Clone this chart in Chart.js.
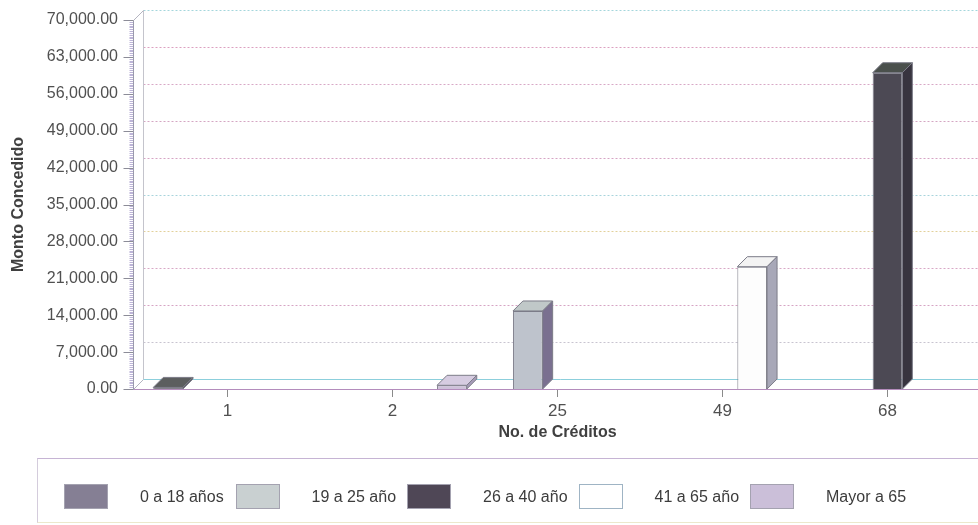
<!DOCTYPE html>
<html>
<head>
<meta charset="utf-8">
<script src="https://cdn.jsdelivr.net/npm/chart.js@4.4.1/dist/chart.umd.min.js"></script>
<style>
  html, body { margin: 0; padding: 0; background: #fff; }
  #wrap { position: relative; width: 978px; height: 525px; overflow: hidden;
          font-family: "Liberation Sans", Arial, sans-serif; }
  #chart { position: absolute; left: 0; top: 0; }
  #legend { position: absolute; left: 37px; top: 458px; width: 960px; height: 65px;
            box-sizing: border-box; border-top: 1px solid #c6b4d4; border-left: 1px solid #d4ccdc;
            border-bottom: 1px solid #ece8cc; display: flex; align-items: flex-start;
            padding: 25px 0 0 26px; }
  .item { display: flex; align-items: center; width: 171.5px; flex: none; }
  .sw { width: 44px; height: 25px; box-sizing: border-box; border: 1px solid #a4a2b0; margin-right: 32px; flex: none; }
  .lbl { font-size: 16px; color: #3c3c3c; white-space: nowrap; }
</style>
</head>
<body>
<div id="wrap">
  <canvas id="chart" width="978" height="525"></canvas>
  <div id="legend"></div>
</div>
<script>
// Número de créditos (categories on the x axis)
const categories = ['1', '2', '25', '49', '68'];

// Age groups
const seriesNames = ['0 a 18 años', '19 a 25 año', '26 a 40 año', '41 a 65 año', 'Mayor a 65'];

// Monto concedido per age group and number of credits
const age0to18  = [300, null, null, null, null];
const age19to25 = [null, null, 14800, null, null];
const age26to40 = [null, null, null, null, 60000];
const age41to65 = [null, null, null, 23200, null];
const ageOver65 = [null, 700, null, null, null];

// Y axis tick values
const yTicks = [0, 7000, 14000, 21000, 28000, 35000, 42000, 49000, 56000, 63000, 70000];

// Styling
const FONT = '"Liberation Sans", Arial, sans-serif';
const frontColors  = ['#66646e', '#bec3cc', '#4c4954', '#fdfdfd', '#cdc1d9'];
const topColors    = ['#5c5e5f', '#c0c8c8', '#4a504c', '#f3f3f3', '#d6cce1'];
const sideColors   = ['#46444c', '#7a7090', '#38343f', '#a8a8b8', '#a69bb8'];
const swatchColors = ['#857f94', '#c9d0d1', '#4f4756', '#ffffff', '#cbbfd9'];
const gridColors   = ['#c9c9d0', '#c8c4d0', '#d6a4c4', '#d8a8c6', '#e2d09a', '#a8d4dc', '#d6a4c4', '#d4a6c2', '#d8a8c6', '#dca0c0', '#a4d6dc'];
const DEPTH = 10;       // 3D depth offset in px
const AXIS_INSET = 12;  // front y axis line sits this far left of the plot

const seriesValues = [age0to18, age19to25, age26to40, age41to65, ageOver65];

function poly(ctx, pts) {
  ctx.beginPath();
  ctx.moveTo(pts[0][0], pts[0][1]);
  for (let i = 1; i < pts.length; i++) ctx.lineTo(pts[i][0], pts[i][1]);
  ctx.closePath();
}
function seg(ctx, x1, y1, x2, y2) {
  ctx.beginPath(); ctx.moveTo(x1, y1); ctx.lineTo(x2, y2); ctx.stroke();
}

// Back wall, floor, gridlines and y axis ticks of the 3D frame
const frame3d = {
  id: 'frame3d',
  beforeDatasetsDraw(chart) {
    const { ctx, chartArea: a, scales: { y } } = chart;
    const W = chart.width;
    const fx = a.left - AXIS_INSET + 0.5;
    const bx = fx + DEPTH;
    const yTop = Math.round(y.getPixelForValue(y.max)) + 0.5;
    const yBot = Math.round(y.getPixelForValue(0)) + 0.5;
    ctx.save();
    ctx.lineWidth = 1;

    // dotted gridlines on the back wall
    ctx.setLineDash([2, 2]);
    y.ticks.forEach((t, i) => {
      if (t.value === 0) return;
      const py = Math.round(y.getPixelForValue(t.value) - DEPTH) + 0.5;
      ctx.strokeStyle = gridColors[i % gridColors.length];
      seg(ctx, bx, py, W, py);
    });
    ctx.setLineDash([]);

    // back wall edge and floor
    ctx.strokeStyle = '#c4c4cc';
    seg(ctx, bx, yTop - DEPTH, bx, yBot - DEPTH);
    ctx.strokeStyle = '#b4b4c0';
    seg(ctx, fx, yTop, bx, yTop - DEPTH);
    seg(ctx, fx, yBot, bx, yBot - DEPTH);
    ctx.strokeStyle = '#8ccfdc';
    seg(ctx, bx, yBot - DEPTH, W, yBot - DEPTH);
    ctx.strokeStyle = '#b48cbc';
    seg(ctx, fx, yBot, W, yBot);

    // minor ticks
    const minorStep = (yTicks[1] - yTicks[0]) / 20;
    ctx.strokeStyle = '#bdb4d8';
    for (let v = 0; v <= y.max; v += minorStep) {
      const py = Math.round(y.getPixelForValue(v)) + 0.5;
      seg(ctx, fx - 4, py, fx, py);
    }
    // major ticks
    ctx.strokeStyle = '#8c8c98';
    y.ticks.forEach(t => {
      const py = Math.round(y.getPixelForValue(t.value)) + 0.5;
      seg(ctx, fx - 10, py, fx, py);
    });
    // front y axis line
    ctx.strokeStyle = '#9a9aac';
    seg(ctx, fx, yTop, fx, yBot);
    ctx.restore();
  }
};

// Top and side faces of each bar
const bars3d = {
  id: 'bars3d',
  afterDatasetsDraw(chart) {
    const { ctx } = chart;
    const D = DEPTH;
    ctx.save();
    ctx.lineWidth = 1;
    ctx.strokeStyle = '#7c7c88';
    chart.data.datasets.forEach((ds, di) => {
      const meta = chart.getDatasetMeta(di);
      meta.data.forEach((el, i) => {
        if (ds.data[i] == null) return;
        const { x, y, base, width } = el.getProps(['x', 'y', 'base', 'width'], true);
        const l = x - width / 2, r = x + width / 2;
        ctx.fillStyle = topColors[di];
        poly(ctx, [[l, y], [l + D, y - D], [r + D, y - D], [r, y]]);
        ctx.fill(); ctx.stroke();
        ctx.fillStyle = sideColors[di];
        poly(ctx, [[r, y], [r + D, y - D], [r + D, base - D], [r, base]]);
        ctx.fill(); ctx.stroke();
      });
    });
    ctx.restore();
  }
};

const datasets = seriesNames.map((name, i) => ({
  label: name,
  data: seriesValues[i],
  backgroundColor: frontColors[i],
  borderColor: '#7c7c88',
  borderWidth: 1,
  categoryPercentage: 0.9,
  barPercentage: 1.0
}));

new Chart(document.getElementById('chart'), {
  type: 'bar',
  data: { labels: categories, datasets },
  options: {
    responsive: false,
    animation: false,
    devicePixelRatio: 1,
    layout: { padding: { left: 0, right: 8, top: 20, bottom: 81 } },
    plugins: { legend: { display: false }, tooltip: { enabled: false } },
    scales: {
      x: {
        grid: { display: true, drawOnChartArea: false, drawTicks: true, tickLength: 8, offset: false, color: '#8a8a8a' },
        border: { display: false },
        ticks: { color: '#505050', padding: 4, font: { family: FONT, size: 17 } },
        title: { display: true, text: 'No. de Créditos', color: '#404040',
                 font: { family: FONT, size: 16, weight: 'bold' }, padding: { top: 2, bottom: 2 } },
        afterFit(s) { s.height = 55; }
      },
      y: {
        min: 0,
        max: 70000,
        grid: { display: false, drawTicks: false },
        border: { display: false },
        afterBuildTicks(s) { s.ticks = yTicks.map(v => ({ value: v })); },
        ticks: {
          color: '#505050', padding: 27, font: { family: FONT, size: 16 },
          callback: v => Number(v).toLocaleString('en-US', { minimumFractionDigits: 2, maximumFractionDigits: 2 })
        },
        title: { display: true, text: 'Monto Concedido', color: '#404040',
                 font: { family: FONT, size: 16, weight: 'bold' }, padding: { top: 9, bottom: 0 } },
        afterFit(s) { s.width = 145; s.paddingTop = 10; s.paddingBottom = 10; }
      }
    }
  },
  plugins: [frame3d, bars3d]
});

// Legend below the chart
const legend = document.getElementById('legend');
seriesNames.forEach((name, i) => {
  const item = document.createElement('div');
  item.className = 'item';
  const sw = document.createElement('div');
  sw.className = 'sw';
  sw.style.background = swatchColors[i];
  if (i === 3) sw.style.borderColor = '#9fb4c4';
  const lbl = document.createElement('span');
  lbl.className = 'lbl';
  lbl.textContent = name;
  item.appendChild(sw);
  item.appendChild(lbl);
  legend.appendChild(item);
});
</script>
</body>
</html>
